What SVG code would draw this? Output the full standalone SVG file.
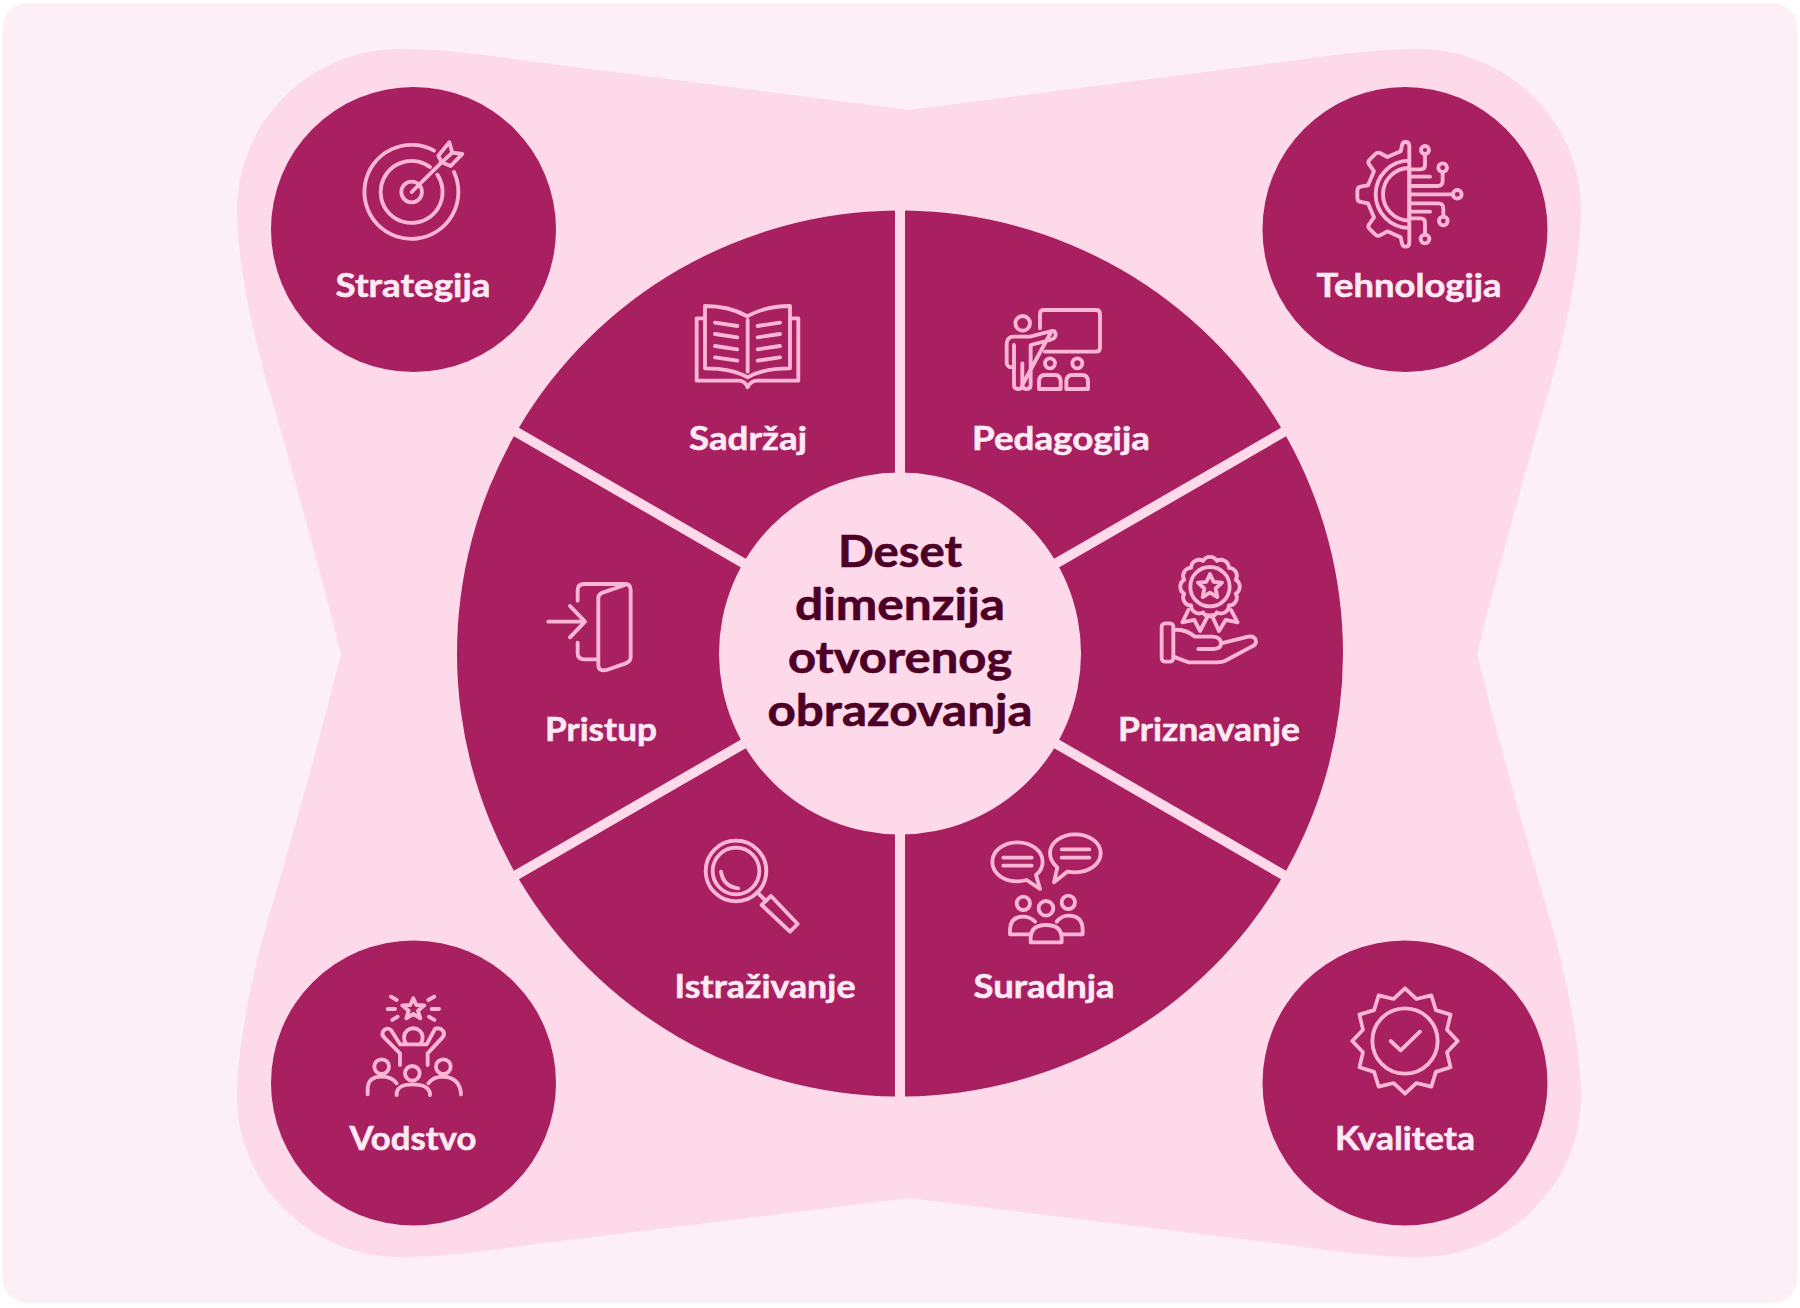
<svg xmlns="http://www.w3.org/2000/svg" width="1800" height="1308" viewBox="0 0 1800 1308">
<style>
.dark{fill:#a82060}
.ic{fill:none;stroke:#fbb6d6;stroke-width:11.500;stroke-linecap:round;stroke-linejoin:round}
.lb{font-family:"Lato","Liberation Sans",sans-serif;font-weight:700;font-size:32px;fill:#fdeaf4;stroke:#fdeaf4;stroke-width:.5px;text-anchor:middle}
.tt{font-family:"Lato","Liberation Sans",sans-serif;font-weight:700;font-size:44px;fill:#4d0026;stroke:#4d0026;stroke-width:.6px;text-anchor:middle}
</style>
<rect id="background" x="2.500" y="3" width="1795" height="1300" rx="25" fill="#fcf0f6"/>
<path id="blob" fill="#fdd9ea" d="M909 110 L520 60 C480 54 440 49 400 49 C310 49 237 122 237 210 C237 258 252 335 272 400 C295 480 320 570 341 654 C320 738 295 828 272 906 C252 971 237 1048 237 1096 C237 1184 310 1257 400 1257 C440 1257 480 1252 520 1246 L909 1198 L1298 1246 C1338 1252 1378 1257 1418 1257 C1508 1257 1581 1184 1581 1096 C1581 1048 1566 971 1546 906 C1523 828 1498 738 1477 654 C1498 570 1523 480 1546 400 C1566 335 1581 258 1581 210 C1581 122 1508 49 1418 49 C1378 49 1338 54 1298 60 Z"/>
<g id="connectors"></g>

<g id="node-strategija">
<circle class="dark" cx="413.500" cy="229.500" r="142.500"/>
<g class="ic" transform="translate(330 110) scale(.3333)">
<path d="M312 122A141 141 0 1 0 372 186"/><path d="M300 171A93 93 0 1 0 322 194"/><circle cx="245" cy="246" r="31"/>
<path d="M245 246L335 157"/><path d="M335 157L325 137L358 97L367 128L397 132L362 168Z"/><path d="M335 157L367 128"/>
</g>
<text class="lb" x="413" y="297" textLength="155" lengthAdjust="spacingAndGlyphs">Strategija</text>
</g>

<g id="node-tehnologija">
<circle class="dark" cx="1405" cy="229.500" r="142.500"/>
<g class="ic" transform="translate(1330 110) scale(.3333)">
<path d="M238 108Q238 96 226 96Q218 96 216 106L212 124L172 141L150 129Q142 126 136 132L118 150Q112 158 118 164L132 184L114 226L92 230Q82 232 82 242V264Q82 274 92 276L114 280L132 322L118 342Q112 350 118 356L136 374Q142 380 150 376L172 364L212 382L216 400Q218 410 226 410Q238 410 238 398Z"/>
<path d="M238 152A101 101 0 0 0 238 354"/><path d="M238 174V332A79 79 0 0 1 238 174Z"/>
<path d="M240 178H272Q285 178 285 165V132"/><circle cx="285" cy="120" r="12"/>
<path d="M240 200H300"/>
<path d="M240 228H322Q338 228 338 212V186"/><circle cx="338" cy="173" r="13"/>
<path d="M240 253H368"/><circle cx="382" cy="253" r="13"/>
<path d="M240 280H325Q340 280 340 295V320"/><circle cx="340" cy="333" r="13"/>
<path d="M240 305H300"/>
<path d="M240 325H272Q285 325 285 338V374"/><circle cx="285" cy="387" r="13"/>
</g>
<text class="lb" x="1409" y="297" textLength="185" lengthAdjust="spacingAndGlyphs">Tehnologija</text>
</g>

<g id="node-vodstvo">
<circle class="dark" cx="413.500" cy="1083" r="142.500"/>
<g class="ic" transform="translate(355 985) scale(.3333)">
<path d="M175 40L184 60L208 61L189 77L196 100L175 87L154 100L161 77L142 61L166 60Z"/>
<path d="M108 35L125 45M98 72H120M112 105L128 95M238 35L220 45M252 72H230M238 105L222 95"/>
<path d="M153 175A28 28 0 1 1 197 175"/>
<path d="M135 240V205L88 158Q78 148 85 138Q95 125 108 135L135 178H215L240 132Q252 125 265 138Q270 150 262 158L218 205V240"/>
<circle cx="80" cy="245" r="22"/><circle cx="172" cy="265" r="22"/><circle cx="265" cy="245" r="22"/>
<path d="M38 328V310Q40 275 80 275Q110 275 125 295"/><path d="M125 330V325Q128 298 172 298Q220 298 225 325V330"/><path d="M220 295Q235 275 265 275Q315 278 318 328"/>
</g>
<text class="lb" x="413" y="1150" textLength="127" lengthAdjust="spacingAndGlyphs">Vodstvo</text>
</g>

<g id="node-kvaliteta">
<circle class="dark" cx="1405" cy="1083" r="142.500"/>
<g class="ic" transform="translate(1340 975) scale(.3333)">
<path transform="translate(195 198) scale(.97) translate(-195 -198)" d="M195 35L230 68L276.500 57L290.500 102.500L336 116.500L325 163L358 198L325 233L336 279.500L290.500 293.500L276.500 339L230 328L195 361L160 328L113.500 339L99.500 293.500L54 279.500L65 233L32 198L65 163L54 116.500L99.500 102.500L113.500 57L160 68Z"/>
<circle cx="195" cy="198" r="98"/><path d="M152 198L182 226L240 170"/>
</g>
<text class="lb" x="1405" y="1150" textLength="140" lengthAdjust="spacingAndGlyphs">Kvaliteta</text>
</g>

<g id="node-sadrzaj">
<path class="dark" d="M895 645V210.500A443 443 0 0 0 518.900 427.700Z"/>
<g class="ic" transform="translate(680 290) scale(.3333)">
<path d="M72 85H50V272H175Q195 272 203 292Q212 272 232 272H355V85H332"/>
<path d="M200 78C160 55 120 48 75 48V235C120 235 165 240 203 262C240 240 285 235 330 235V48C285 48 245 55 203 78"/>
<path d="M203 90V245"/>
<path d="M105 98L172 108M105 132L172 142M105 168L172 178M105 202L172 212M300 98L233 108M300 132L233 142M300 168L233 178M300 202L233 212"/>
</g>
<text class="lb" x="748" y="450" textLength="118" lengthAdjust="spacingAndGlyphs">Sadržaj</text>
</g>

<g id="node-pedagogija">
<path class="dark" d="M905 645V210.500A443 443 0 0 1 1281.100 427.700Z"/>
<g class="ic" transform="translate(990 295) scale(.3333)">
<path d="M150 100V57Q150 45 162 45H318Q330 45 330 57V158Q330 170 318 170H165"/>
<circle cx="98" cy="85" r="22"/>
<path d="M185 108L120 125H72Q50 125 50 148V205Q52 220 72 215V150M72 190V270Q72 282 85 282Q97 282 97 270V205M97 270Q97 282 110 282Q122 282 122 270V150L180 135Q198 130 197 118Q195 105 185 108Z"/>
<circle cx="180" cy="205" r="15"/><circle cx="262" cy="205" r="15"/>
<path d="M147 282V260Q147 240 165 240H195Q212 240 212 260V282Z"/><path d="M229 282V260Q229 240 247 240H277Q294 240 294 260V282Z"/>
</g>
<text class="lb" x="1061" y="450" textLength="178" lengthAdjust="spacingAndGlyphs">Pedagogija</text>
</g>

<g id="node-priznavanje">
<path class="dark" d="M910 653.500L1286.100 436.300A443 443 0 0 1 1286.100 870.700Z"/>
<g class="ic" transform="translate(1145 545) scale(.3333)">
<path d="M174.300 47.700A24 24 0 0 1 215.700 47.700A24 24 0 0 1 251.600 68.400A24 24 0 0 1 272.300 104.300A24 24 0 0 1 272.300 145.700A24 24 0 0 1 251.600 181.600A24 24 0 0 1 215.700 202.300A24 24 0 0 1 174.300 202.300A24 24 0 0 1 138.400 181.600A24 24 0 0 1 117.700 145.700A24 24 0 0 1 117.700 104.300A24 24 0 0 1 138.400 68.400A24 24 0 0 1 174.300 47.700Z"/>
<circle cx="195" cy="125" r="59"/>
<path d="M195 87L205.600 110.400L231 113L212 130.600L217 156L195 143L173 156L178 130.600L159 113L184.400 110.400Z"/>
<path d="M130 195L112 232L148 225L165 258L190 210"/><path d="M258 195L278 232L242 225L222 258L200 210"/>
<rect x="50" y="235" width="35" height="115" rx="10"/>
<path d="M85 255Q120 250 150 275H205Q228 278 228 295Q228 312 205 312H160M228 295L310 275Q332 272 333 290Q333 300 320 305L245 345Q235 352 215 352H130L85 335"/>
</g>
<text class="lb" x="1209" y="741" textLength="182" lengthAdjust="spacingAndGlyphs">Priznavanje</text>
</g>

<g id="node-suradnja">
<path class="dark" d="M905 662V1096.500A443 443 0 0 0 1281.100 879.300Z"/>
<g class="ic" transform="translate(980 825) scale(.3333)">
<path d="M140 165Q115 172 90 167C55 158 37 135 37 110C37 78 70 52 112 52C155 52 188 78 188 110C188 125 180 140 168 150L180 192Z"/>
<path d="M70 98H155M70 122H155"/>
<path d="M222 172L232 128C218 115 210 100 210 85C210 53 244 28 286 28C328 28 362 53 362 85C362 117 328 142 286 142Q272 142 262 140Z"/>
<path d="M245 73H328M245 98H328"/>
<circle cx="130" cy="235" r="20"/><circle cx="198" cy="250" r="22"/><circle cx="265" cy="232" r="20"/>
<path d="M152 328H90V315Q90 275 130 275Q150 275 165 290"/><path d="M152 352V340Q152 300 198 300Q245 300 245 340V352Z"/><path d="M230 290Q245 272 265 272Q308 272 308 315V328H245"/>
</g>
<text class="lb" x="1044" y="998" textLength="141" lengthAdjust="spacingAndGlyphs">Suradnja</text>
</g>

<g id="node-istrazivanje">
<path class="dark" d="M895 662V1096.500A443 443 0 0 1 518.900 879.300Z"/>
<g class="ic" transform="translate(695 830) scale(.3333)">
<circle cx="123" cy="123" r="91"/><circle cx="123" cy="123" r="70"/>
<path d="M78 125Q85 170 130 175"/>
<path d="M187 187L212 212"/><path d="M200 225L228 198L308 282L285 305Z"/>
</g>
<text class="lb" x="765" y="998" textLength="181" lengthAdjust="spacingAndGlyphs">Istraživanje</text>
</g>

<g id="node-pristup">
<path class="dark" d="M890 653.500L513.900 436.300A443 443 0 0 0 513.900 870.700Z"/>
<g class="ic" transform="translate(535 570) scale(.3333)">
<path d="M128 92V60Q128 42 148 42H270Q287 42 287 60V262Q287 275 272 280L215 300Q190 305 190 285V85Q190 72 205 67L270 45"/>
<path d="M128 218V250Q128 268 148 268H190"/>
<path d="M40 155H150M105 108L150 155L105 202"/>
</g>
<text class="lb" x="601" y="741" textLength="112" lengthAdjust="spacingAndGlyphs">Pristup</text>
</g>

<g id="node-center">
<circle cx="900" cy="653.500" r="181" fill="#fdd9ea"/>
<text class="tt" x="900" y="567" textLength="124" lengthAdjust="spacingAndGlyphs">Deset</text>
<text class="tt" x="900" y="619.500" textLength="210" lengthAdjust="spacingAndGlyphs">dimenzija</text>
<text class="tt" x="900" y="672.500" textLength="224" lengthAdjust="spacingAndGlyphs">otvorenog</text>
<text class="tt" x="900" y="725.500" textLength="265" lengthAdjust="spacingAndGlyphs">obrazovanja</text>
</g>
</svg>
